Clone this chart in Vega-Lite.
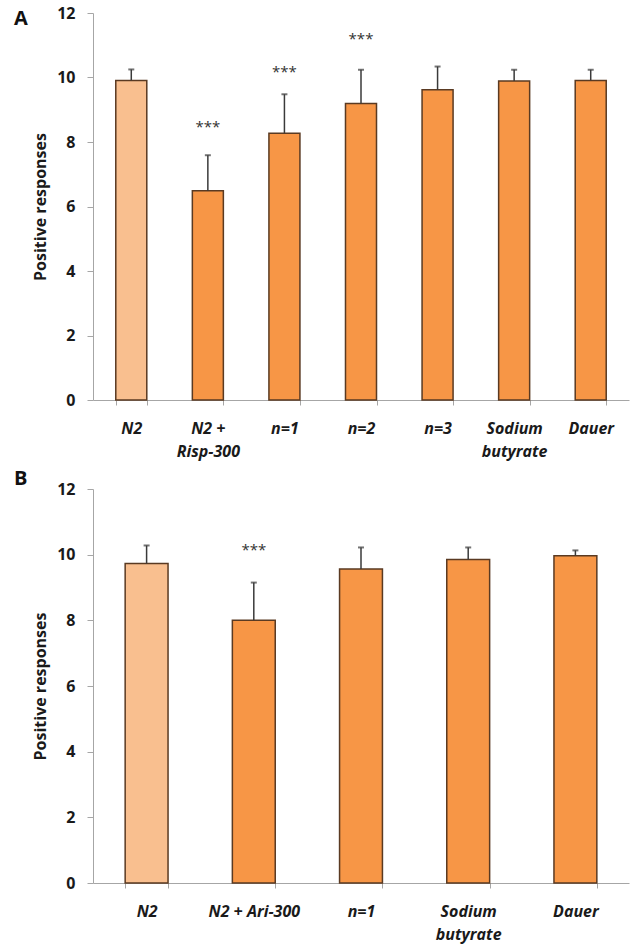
{
  "$schema": "https://vega.github.io/schema/vega-lite/v6.json",
  "background": "white",
  "padding": {"left": 14, "top": 5, "right": 5, "bottom": 5},
  "spacing": 10,
  "config": {
    "font": "Open Sans",
    "view": {"stroke": null},
    "axis": {
      "domainColor": "#a6a6a6",
      "tickColor": "#a6a6a6",
      "labelColor": "#1a1a1a",
      "titleColor": "#1a1a1a",
      "labelFont": "Open Sans",
      "titleFont": "Open Sans",
      "grid": false
    },
    "title": {"font": "Open Sans", "fontWeight": "bold", "fontSize": 20, "color": "#111111"}
  },
  "vconcat": [
    {
      "width": 536,
      "height": 387,
      "title": {"text": "A", "anchor": "start", "frame": "group", "orient": "top", "offset": -24, "dx": -79},
      "data": {
        "values": [
          {"group": "N2", "mean": 9.91, "upper": 10.25, "kind": "control", "sig": "", "star_y": null},
          {"group": "N2 + Risp-300", "mean": 6.49, "upper": 7.59, "kind": "treated", "sig": "***", "star_y": 8.45},
          {"group": "n=1", "mean": 8.27, "upper": 9.48, "kind": "treated", "sig": "***", "star_y": 10.18},
          {"group": "n=2", "mean": 9.19, "upper": 10.24, "kind": "treated", "sig": "***", "star_y": 11.18},
          {"group": "n=3", "mean": 9.62, "upper": 10.34, "kind": "treated", "sig": "", "star_y": null},
          {"group": "Sodium butyrate", "mean": 9.89, "upper": 10.24, "kind": "treated", "sig": "", "star_y": null},
          {"group": "Dauer", "mean": 9.91, "upper": 10.24, "kind": "treated", "sig": "", "star_y": null}
        ]
      },
      "encoding": {
        "x": {
          "field": "group", "type": "nominal", "sort": null,
          "scale": {"paddingInner": 0.595, "paddingOuter": 0.2975},
          "axis": {
            "title": null, "labelAngle": 0, "tickBand": "extent", "tickSize": 5,
            "labelFontSize": 16, "labelFontWeight": "bold", "labelFontStyle": "italic",
            "labelPadding": 15, "labelLineHeight": 23, "labelBaseline": "top",
            "labelExpr": "datum.label == 'N2 + Risp-300' ? ['N2 +', 'Risp-300'] : datum.label == 'Sodium butyrate' ? ['Sodium', 'butyrate'] : datum.label"
          }
        }
      },
      "layer": [
        {
          "mark": {"type": "bar", "stroke": "#5a3a22", "strokeWidth": 1.5},
          "encoding": {
            "y": {"field": "mean", "type": "quantitative", "scale": {"domain": [0, 12]},
              "axis": {"values": [0, 2, 4, 6, 8, 10, 12], "title": "Positive responses", "tickSize": 6,
                "labelFontSize": 16, "labelFontWeight": "bold", "labelPadding": 12,
                "titleFontSize": 16, "titleFontWeight": "bold", "titlePadding": 8}},
            "color": {"field": "kind", "type": "nominal", "scale": {"domain": ["control", "treated"], "range": ["#F9BF8F", "#F79646"]}, "legend": null}
          }
        },
        {
          "mark": {"type": "rule", "color": "#3a3a3a", "strokeWidth": 1.5},
          "encoding": {"y": {"field": "mean", "type": "quantitative"}, "y2": {"field": "upper"}}
        },
        {
          "mark": {"type": "tick", "orient": "horizontal", "color": "#3a3a3a", "size": 6, "thickness": 2},
          "encoding": {"y": {"field": "upper", "type": "quantitative"}}
        },
        {
          "transform": [{"filter": "datum.sig != ''"}],
          "mark": {"type": "text", "fontSize": 15, "color": "#333333", "baseline": "middle"},
          "encoding": {"y": {"field": "star_y", "type": "quantitative"}, "text": {"field": "sig"}}
        }
      ]
    },
    {
      "width": 536,
      "height": 394,
      "title": {"text": "B", "anchor": "start", "frame": "group", "orient": "top", "offset": -8, "dx": -79},
      "data": {
        "values": [
          {"group": "N2", "mean": 9.73, "upper": 10.28, "kind": "control", "sig": "", "star_y": null},
          {"group": "N2 + Ari-300", "mean": 8.0, "upper": 9.15, "kind": "treated", "sig": "***", "star_y": 10.13},
          {"group": "n=1", "mean": 9.56, "upper": 10.22, "kind": "treated", "sig": "", "star_y": null},
          {"group": "Sodium butyrate", "mean": 9.85, "upper": 10.22, "kind": "treated", "sig": "", "star_y": null},
          {"group": "Dauer", "mean": 9.97, "upper": 10.13, "kind": "treated", "sig": "", "star_y": null}
        ]
      },
      "encoding": {
        "x": {
          "field": "group", "type": "nominal", "sort": null,
          "scale": {"paddingInner": 0.6, "paddingOuter": 0.3},
          "axis": {
            "title": null, "labelAngle": 0, "tickBand": "extent", "tickSize": 5,
            "labelFontSize": 16, "labelFontWeight": "bold", "labelFontStyle": "italic",
            "labelPadding": 15, "labelLineHeight": 23, "labelBaseline": "top",
            "labelExpr": "datum.label == 'Sodium butyrate' ? ['Sodium', 'butyrate'] : datum.label"
          }
        }
      },
      "layer": [
        {
          "mark": {"type": "bar", "stroke": "#5a3a22", "strokeWidth": 1.5},
          "encoding": {
            "y": {"field": "mean", "type": "quantitative", "scale": {"domain": [0, 12]},
              "axis": {"values": [0, 2, 4, 6, 8, 10, 12], "title": "Positive responses", "tickSize": 6,
                "labelFontSize": 16, "labelFontWeight": "bold", "labelPadding": 12,
                "titleFontSize": 16, "titleFontWeight": "bold", "titlePadding": 8}},
            "color": {"field": "kind", "type": "nominal", "scale": {"domain": ["control", "treated"], "range": ["#F9BF8F", "#F79646"]}, "legend": null}
          }
        },
        {
          "mark": {"type": "rule", "color": "#3a3a3a", "strokeWidth": 1.5},
          "encoding": {"y": {"field": "mean", "type": "quantitative"}, "y2": {"field": "upper"}}
        },
        {
          "mark": {"type": "tick", "orient": "horizontal", "color": "#3a3a3a", "size": 6, "thickness": 2},
          "encoding": {"y": {"field": "upper", "type": "quantitative"}}
        },
        {
          "transform": [{"filter": "datum.sig != ''"}],
          "mark": {"type": "text", "fontSize": 15, "color": "#333333", "baseline": "middle"},
          "encoding": {"y": {"field": "star_y", "type": "quantitative"}, "text": {"field": "sig"}}
        }
      ]
    }
  ]
}
